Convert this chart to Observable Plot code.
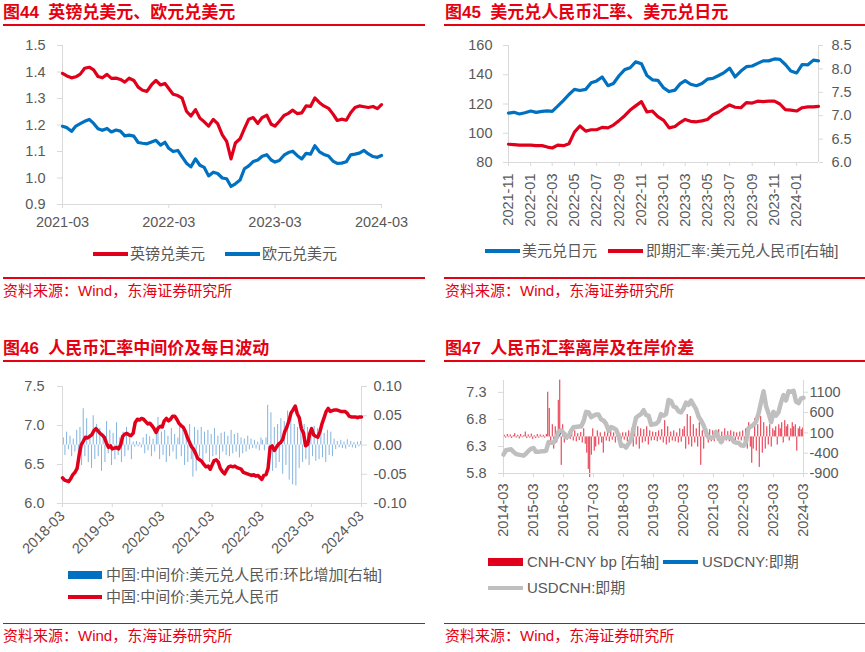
<!DOCTYPE html>
<html><head><meta charset="utf-8">
<script src="https://cdn.jsdelivr.net/npm/d3@7"></script>
<script src="https://cdn.jsdelivr.net/npm/@observablehq/plot@0.6"></script>
<style>
body{margin:0;background:#fff;}
#root{position:relative;width:865px;height:652px;overflow:hidden;background:#fff;font-family:"Liberation Sans","Noto Sans CJK SC",sans-serif;}
.t{position:absolute;line-height:20px;white-space:pre;}
.title{font-weight:bold;font-size:17px;color:#e60012;}
.src{font-size:15px;color:#e60012;}
.lg{font-size:15px;color:#595959;}
.bx{position:absolute;}
</style></head><body><div id="root"></div>
<script>
// ---------------- DATA ----------------
// Fig 44: GBPUSD / EURUSD, semi-monthly (1st & 16th) from 2021-03-01 to 2024-03-01
const c1Gbp = [1.395,1.385,1.378,1.382,1.392,1.414,1.418,1.408,1.383,1.378,1.391,1.376,1.377,1.372,1.362,1.377,1.368,1.343,1.331,1.327,1.352,1.368,1.351,1.357,1.338,1.316,1.311,1.301,1.252,1.234,1.258,1.226,1.212,1.196,1.221,1.205,1.163,1.138,1.072,1.132,1.148,1.186,1.222,1.228,1.206,1.228,1.237,1.203,1.196,1.214,1.236,1.244,1.256,1.243,1.246,1.272,1.27,1.302,1.284,1.272,1.263,1.242,1.217,1.222,1.218,1.246,1.266,1.272,1.269,1.266,1.27,1.262,1.277];
const c1Eur = [1.195,1.19,1.176,1.196,1.205,1.214,1.221,1.206,1.186,1.18,1.187,1.174,1.181,1.177,1.159,1.162,1.158,1.134,1.131,1.129,1.136,1.142,1.124,1.135,1.112,1.1,1.104,1.08,1.056,1.042,1.072,1.048,1.04,1.008,1.022,1.017,1.0,0.997,0.968,0.978,0.992,1.035,1.046,1.062,1.068,1.082,1.088,1.068,1.06,1.066,1.086,1.096,1.101,1.085,1.072,1.093,1.09,1.122,1.099,1.089,1.083,1.064,1.055,1.056,1.061,1.087,1.09,1.094,1.104,1.091,1.081,1.078,1.085];
const c1YTicks = [0.9,1.0,1.1,1.2,1.3,1.4,1.5];
const c1XTicks = ["2021-03-01","2022-03-01","2023-03-01","2024-03-01"];

// Fig 45: USDJPY (left) / USDCNY (right), semi-monthly from 2021-11-01 to 2024-03-01
const c2Jpy = [113.8,114.3,113.2,114.0,115.2,114.3,115.0,115.3,115.0,118.5,122.5,126.5,130.0,129.2,130.0,134.5,135.8,138.5,132.5,134.0,139.5,143.5,144.8,148.8,147.5,139.5,136.5,136.2,131.0,128.5,129.5,134.0,136.0,133.5,132.5,134.0,137.0,137.5,139.5,141.5,144.5,138.5,142.5,145.5,146.0,147.8,149.5,149.5,150.8,150.5,147.0,142.5,141.2,147.0,146.8,150.0,149.5];
const c2Cny = [6.39,6.38,6.37,6.37,6.37,6.36,6.36,6.33,6.31,6.37,6.36,6.40,6.65,6.78,6.67,6.70,6.70,6.75,6.74,6.80,6.90,7.00,7.12,7.21,7.30,7.08,7.10,6.98,6.90,6.74,6.77,6.86,6.92,6.88,6.87,6.89,6.92,7.02,7.08,7.16,7.23,7.18,7.17,7.28,7.27,7.31,7.30,7.31,7.31,7.25,7.13,7.12,7.10,7.17,7.19,7.19,7.20];
const c2YLeftTicks = [80,100,120,140,160];
const c2YRightTicks = [6.0,6.5,7.0,7.5,8.0,8.5];
const c2XTicks = ["2021-11-01","2022-01-01","2022-03-01","2022-05-01","2022-07-01","2022-09-01","2022-11-01","2023-01-01","2023-03-01","2023-05-01","2023-07-01","2023-09-01","2023-11-01","2024-01-01"];

// Fig 46: central parity (semi-monthly 2018-03-01..2024-03-01) and daily change bars (right axis)
const c3Mid = [6.33,6.30,6.29,6.28,6.32,6.37,6.40,6.45,6.62,6.75,6.80,6.85,6.84,6.86,6.88,6.93,6.96,6.93,6.90,6.88,
6.85,6.78,6.72,6.74,6.70,6.71,6.72,6.70,6.75,6.86,6.89,6.90,6.88,6.87,6.90,7.04,7.08,7.07,7.09,7.08,7.05,7.02,7.03,7.00,
6.96,6.91,6.97,6.99,6.98,7.06,7.09,7.06,7.08,7.12,7.12,7.08,7.03,7.00,6.98,6.93,6.85,6.79,6.73,6.70,6.64,6.58,6.56,6.54,
6.50,6.47,6.48,6.44,6.49,6.55,6.56,6.53,6.45,6.41,6.38,6.43,6.47,6.48,6.47,6.48,6.46,6.45,6.44,6.40,6.39,6.38,6.37,6.36,
6.37,6.35,6.36,6.33,6.31,6.36,6.37,6.45,6.72,6.74,6.68,6.72,6.76,6.78,6.82,6.92,6.98,7.06,7.16,7.20,7.25,7.15,7.10,6.96,
6.90,6.74,6.76,6.90,6.96,6.88,6.86,6.85,6.92,7.02,7.10,7.18,7.22,7.18,7.19,7.20,7.20,7.19,7.18,7.18,7.18,7.16,7.12,7.11,
7.11,7.11,7.10,7.11,7.11];
const c3Chg = [0.012,-0.018,0.022,-0.008,0.015,-0.02,0.01,-0.012,0.025,-0.015,
0.03,-0.035,0.062,-0.02,0.045,-0.03,0.018,-0.04,0.05,-0.025,
0.035,-0.02,0.028,-0.045,0.015,-0.03,0.04,-0.015,0.025,-0.035,
0.02,-0.025,0.038,-0.018,0.012,-0.03,0.022,-0.02,0.03,-0.01,
0.015,-0.025,0.005,-0.004,0.006,-0.003,0.004,-0.005,0.012,-0.015,
0.018,-0.01,0.014,-0.02,0.01,-0.012,0.02,0.047,-0.025,0.022,
-0.018,0.025,-0.03,0.015,-0.02,0.028,-0.012,0.018,-0.025,0.012,
0.03,-0.02,0.025,-0.035,0.02,-0.03,0.035,-0.025,-0.055,0.03,
-0.045,0.025,-0.02,0.03,-0.028,0.022,-0.015,0.025,-0.03,0.018,
-0.02,0.028,-0.018,0.015,-0.025,0.02,-0.012,0.022,-0.018,0.015,
-0.02,0.025,-0.015,0.018,-0.012,0.02,-0.022,0.012,-0.015,0.01,
-0.012,0.015,-0.008,0.01,-0.006,0.008,-0.007,0.005,-0.01,0.012,
0.008,-0.01,0.012,0.068,-0.035,0.055,-0.045,0.03,-0.04,0.035,
-0.03,0.045,-0.05,0.04,-0.035,0.058,-0.06,0.048,-0.068,0.035,
-0.07,0.03,-0.04,0.038,-0.03,0.035,-0.025,0.03,-0.035,0.025,
-0.02,0.032,-0.028,0.028,-0.025,0.03,-0.022,0.02,-0.03,0.025,
-0.018,0.022,-0.02,0.01,-0.008,0.006,-0.005,0.008,-0.006,0.005,
-0.007,0.009,-0.004,0.006,-0.005,0.004,-0.006,0.005,-0.003,0.006];
const c3YLeftTicks = [6.0,6.5,7.0,7.5];
const c3YRightTicks = [-0.1,-0.05,0,0.05,0.1];
const c3XTicks = ["2018-03-01","2019-03-01","2020-03-01","2021-03-01","2022-03-01","2023-03-01","2024-03-01"];

// Fig 47: USDCNY / USDCNH monthly 2014-03..2024-03, CNH-CNY spread bp (right axis)
const c4Cny = [6.14,6.22,6.23,6.25,6.20,6.17,6.15,6.14,6.12,6.15,
6.20,6.25,6.26,6.20,6.20,6.20,6.21,6.21,6.36,6.36,6.36,6.40,
6.49,6.57,6.54,6.46,6.48,6.58,6.65,6.65,6.67,6.67,6.77,6.92,
6.95,6.86,6.88,6.89,6.89,6.81,6.78,6.72,6.60,6.65,6.63,6.61,
6.50,6.32,6.32,6.28,6.34,6.41,6.62,6.82,6.86,6.88,6.96,6.88,
6.88,6.70,6.71,6.72,6.74,6.88,6.87,6.88,7.15,7.14,7.04,7.02,
6.96,6.93,7.00,7.10,7.07,7.14,7.07,6.99,6.86,6.79,6.70,6.57,
6.46,6.46,6.47,6.57,6.47,6.38,6.46,6.47,6.47,6.46,6.39,6.37,
6.37,6.32,6.31,6.37,6.62,6.66,6.70,6.75,6.90,7.11,7.30,7.06,
6.92,6.76,6.93,6.87,6.92,7.10,7.23,7.14,7.31,7.30,7.32,7.14,
7.10,7.18,7.19];
const c4Cnh = [6.15,6.23,6.24,6.25,6.20,6.16,6.15,6.14,6.13,6.17,
6.22,6.26,6.27,6.20,6.20,6.21,6.21,6.22,6.38,6.37,6.37,6.45,
6.58,6.60,6.55,6.47,6.49,6.59,6.66,6.66,6.67,6.67,6.77,6.94,
6.93,6.84,6.87,6.89,6.89,6.80,6.78,6.72,6.59,6.66,6.64,6.61,
6.50,6.31,6.32,6.28,6.35,6.42,6.63,6.83,6.87,6.90,6.97,6.88,
6.87,6.70,6.71,6.72,6.76,6.90,6.87,6.90,7.16,7.14,7.04,7.02,
6.95,6.93,7.00,7.11,7.07,7.15,7.07,6.99,6.85,6.78,6.69,6.56,
6.46,6.46,6.47,6.57,6.47,6.38,6.46,6.47,6.47,6.46,6.39,6.37,
6.37,6.32,6.31,6.38,6.64,6.67,6.70,6.76,6.91,7.12,7.32,7.05,
6.91,6.75,6.94,6.87,6.93,7.11,7.25,7.15,7.32,7.31,7.33,7.13,
7.10,7.19,7.20];
const c4Spread = [40,-30,60,-20,50,-40,30,80,-30,40,-50,60,-20,30,120,-40,50,-30,70,-60,
30,-40,60,-30,50,-20,40,-30,60,1100,700,-200,300,-300,250,-150,900,1400,-700,300,
-150,100,-80,120,-60,90,-100,150,-120,80,-90,110,-150,200,-180,-400,-800,-1000,-450,200,
-350,-250,150,-200,100,-150,-400,120,-100,150,-120,200,-80,100,-150,120,-90,80,-60,100,
-80,100,-120,150,-100,200,-250,300,-200,250,-300,200,-150,180,-120,250,-200,150,-100,120,
-90,110,-120,150,-80,180,-150,400,-200,250,-150,120,-100,150,-120,100,-150,200,-130,180,
250,-300,550,-200,500,-250,300,-150,200,-250,350,-700,150,-300,180,200,-150,180,-120,150,
-120,150,-100,180,-130,120,-150,200,-100,130,-120,150,-90,120,-110,100,-80,120,-100,150,
-150,200,-300,350,-250,-650,-300,450,-350,300,-750,500,-400,350,-300,250,-200,300,-250,200,
150,250,-200,300,200,350,-150,400,250,300,-100,200,350,250,300,-350,200,250,180,220];
const c4YLeftTicks = [5.8,6.3,6.8,7.3];
const c4YRightTicks = [-900,-400,100,600,1100];
const c4XTicks = ["2014-03-01","2015-03-01","2016-03-01","2017-03-01","2018-03-01","2019-03-01","2020-03-01","2021-03-01","2022-03-01","2023-03-01","2024-03-01"];

// ---------------- HELPERS ----------------
const RED="#e0001b", BLUE="#0070c0", GRAY="#bfbfbf", AX="#d9d9d9", TXT="#595959";
const FONT='"Liberation Sans","Noto Sans CJK SC",sans-serif';
const root=document.getElementById("root");
const D=(y,m,d)=>new Date(Date.UTC(y,m-1,d));
const P=s=>new Date(s+"T00:00:00Z");
const ym=d3.utcFormat("%Y-%m");
const semi=(y0,m0,n)=>Array.from({length:n},(_,i)=>D(y0,m0+Math.floor(i/2),1+(i%2)*15));
const spread=(d0,d1,n)=>{const span=(d1-d0)/86400000;return Array.from({length:n},(_,i)=>d3.utcDay.offset(d0,Math.round((i+0.5)*span/n)));};

function text(cls,x,yc,s){const e=document.createElement("div");e.className="t "+cls;e.style.left=x+"px";e.style.top=(yc-10)+"px";e.textContent=s;root.appendChild(e);}
function box(x,y,w,h,c){const e=document.createElement("div");e.className="bx";Object.assign(e.style,{left:x+"px",top:y+"px",width:w+"px",height:h+"px",background:c});root.appendChild(e);}
function put(svg,l,t){svg.style.position="absolute";svg.style.left=l+"px";svg.style.top=t+"px";root.appendChild(svg);}
function base(w,h,ml,mr,mt,mb){return {width:w,height:h,marginLeft:ml,marginRight:mr,marginTop:mt,marginBottom:mb,
  style:{fontFamily:FONT,fontSize:"14.5px",color:TXT,background:"transparent",overflow:"visible"}};}

// ---------------- FRAME TEXTS ----------------
text("title",3,13.3,"图44  英镑兑美元、欧元兑美元");
text("title",445,13.3,"图45  美元兑人民币汇率、美元兑日元");
text("title",3,348.8,"图46  人民币汇率中间价及每日波动");
text("title",445,348.8,"图47  人民币汇率离岸及在岸价差");
box(3,24.3,422,1.6,"#e60012"); box(444,24.3,421,1.6,"#e60012");
box(3,360,422,1.6,"#e60012"); box(444,360,421,1.6,"#e60012");
box(3,277,422,1.6,"#e60012"); box(444,277,421,1.6,"#e60012");
box(3,622.7,422,1.6,"#e60012"); box(444,622.7,421,1.6,"#e60012");
text("src",3,291,"资料来源：Wind，东海证券研究所");
text("src",445,291,"资料来源：Wind，东海证券研究所");
text("src",3,636,"资料来源：Wind，东海证券研究所");
text("src",445,636,"资料来源：Wind，东海证券研究所");

// legends
box(93,252,35,4,RED); text("lg",130,254,"英镑兑美元");
box(225,252,35,4,BLUE); text("lg",262,254,"欧元兑美元");
box(485,249,35,4,BLUE); text("lg",522,251,"美元兑日元");
box(608,249,35,4,RED); text("lg",646,251,"即期汇率:美元兑人民币[右轴]");
box(68,571,34,8,BLUE); text("lg",106,575,"中国:中间价:美元兑人民币:环比增加[右轴]");
box(68,595,34,4,RED); text("lg",106,597,"中国:中间价:美元兑人民币");
box(488,558,35,8,RED); text("lg",527,562,"CNH-CNY bp [右轴]");
box(663,560,35,4,BLUE); text("lg",702,562,"USDCNY:即期");
box(488,586,35,4,GRAY); text("lg",527,588,"USDCNH:即期");

// ---------------- CHART 1 ----------------
{
  const dates=semi(2021,3,c1Gbp.length);
  const data=dates.map((d,i)=>({date:d,gbp:c1Gbp[i],eur:c1Eur[i]}));
  const x0=P(c1XTicks[0]), x1=P(c1XTicks[c1XTicks.length-1]);
  put(Plot.plot({...base(430,200,62,49,15,26),
    x:{type:"utc",domain:[x0,x1],label:null},
    y:{domain:[0.9,1.5],label:null},
    marks:[
      Plot.ruleX([x0],{stroke:AX}),
      Plot.ruleY([0.9],{stroke:AX}),
      Plot.axisY({ticks:c1YTicks,tickFormat:d=>d.toFixed(1),tickSize:5,tickPadding:12,stroke:AX,fill:TXT,label:null}),
      Plot.axisX({ticks:c1XTicks.map(P),tickFormat:ym,tickSize:4,tickPadding:8,stroke:AX,fill:TXT,label:null}),
      Plot.line(data,{x:"date",y:"gbp",stroke:RED,strokeWidth:3.2}),
      Plot.line(data,{x:"date",y:"eur",stroke:BLUE,strokeWidth:3.2})
    ]}),0,30);
}

// ---------------- CHART 2 ----------------
{
  const dates=semi(2021,11,c2Jpy.length);
  const data=dates.map((d,i)=>({date:d,jpy:c2Jpy[i],cny:c2Cny[i]}));
  const x0=P("2021-11-01"), x1=P("2024-03-01");
  put(Plot.plot({...base(430,210,73,47,15,78),
    x:{type:"utc",domain:[x0,x1],label:null},
    y:{domain:[80,160],label:null},
    marks:[
      Plot.ruleX([x0,x1],{stroke:AX}),
      Plot.ruleY([80],{stroke:AX}),
      Plot.axisY({ticks:c2YLeftTicks,tickSize:5,tickPadding:11,stroke:AX,fill:TXT,label:null}),
      Plot.axisX({ticks:c2XTicks.map(P),tickFormat:ym,tickRotate:-90,tickSize:4,tickPadding:7,stroke:AX,fill:TXT,label:null}),
      Plot.line(data,{x:"date",y:"jpy",stroke:BLUE,strokeWidth:3.2})
    ]}),435,30);
  put(Plot.plot({...base(430,210,73,47,15,78),
    x:{type:"utc",domain:[x0,x1],label:null,axis:null},
    y:{domain:[6.0,8.5],label:null},
    marks:[
      Plot.axisY({anchor:"right",ticks:c2YRightTicks,tickFormat:d=>d.toFixed(1),tickSize:4,tickPadding:9,stroke:AX,fill:TXT,label:null}),
      Plot.line(data,{x:"date",y:"cny",stroke:RED,strokeWidth:3.2})
    ]}),435,30);
}

// ---------------- CHART 3 ----------------
{
  const x0=P(c3XTicks[0]), x1=P(c3XTicks[c3XTicks.length-1]);
  const mid=semi(2018,3,c3Mid.length).map((d,i)=>({date:d,v:c3Mid[i]}));
  const chg=spread(x0,x1,c3Chg.length).map((d,i)=>({date:d,v:c3Chg[i]}));
  put(Plot.plot({...base(430,200,62,69,16,67),
    x:{type:"utc",domain:[x0,x1],label:null,axis:null},
    y:{domain:[-0.1,0.1],label:null},
    marks:[
      Plot.ruleX(chg,{x:"date",y1:0,y2:"v",stroke:"#5b9bd5",strokeWidth:0.9,strokeOpacity:0.85}),
      Plot.axisY({anchor:"right",ticks:c3YRightTicks,tickFormat:d=>d.toFixed(2),tickSize:5,tickPadding:7,stroke:AX,fill:TXT,label:null})
    ]}),0,370);
  put(Plot.plot({...base(430,200,62,69,16,67),
    x:{type:"utc",domain:[x0,x1],label:null},
    y:{domain:[6.0,7.5],label:null},
    marks:[
      Plot.ruleX([x0,x1],{stroke:AX}),
      Plot.ruleY([6.0],{stroke:AX}),
      Plot.axisY({ticks:c3YLeftTicks,tickFormat:d=>d.toFixed(1),tickSize:5,tickPadding:13,stroke:AX,fill:TXT,label:null}),
      Plot.axisX({ticks:c3XTicks.map(P),tickFormat:ym,tickRotate:-45,tickSize:4,tickPadding:6,stroke:AX,fill:TXT,label:null}),
      Plot.line(mid,{x:"date",y:"v",stroke:RED,strokeWidth:3.5})
    ]}),0,370);
}

// ---------------- CHART 4 ----------------
{
  const x0=P(c4XTicks[0]), x1=P(c4XTicks[c4XTicks.length-1]);
  const lines=c4Cny.map((v,i)=>({date:D(2014,3+i,1),cny:v,cnh:c4Cnh[i]}));
  const bars=spread(x0,x1,c4Spread.length).map((d,i)=>({date:d,v:c4Spread[i]}));
  put(Plot.plot({...base(430,180,68,62,10,77),
    x:{type:"utc",domain:[x0,x1],label:null,axis:null},
    y:{domain:[-900,1389],label:null},
    marks:[
      Plot.ruleX(bars,{x:"date",y1:0,y2:"v",stroke:RED,strokeWidth:1,strokeOpacity:0.85}),
      Plot.axisY({anchor:"right",ticks:c4YRightTicks,tickFormat:d=>String(d),tickSize:4,tickPadding:2,stroke:AX,fill:TXT,label:null})
    ]}),435,370);
  put(Plot.plot({...base(430,180,68,62,10,77),
    x:{type:"utc",domain:[x0,x1],label:null},
    y:{domain:[5.8,7.52],label:null},
    marks:[
      Plot.ruleX([x0,x1],{stroke:AX}),
      Plot.ruleY([5.8],{stroke:AX}),
      Plot.axisY({ticks:c4YLeftTicks,tickFormat:d=>d.toFixed(1),tickSize:5,tickPadding:12,stroke:AX,fill:TXT,label:null}),
      Plot.axisX({ticks:c4XTicks.map(P),tickFormat:ym,tickRotate:-90,tickSize:4,tickPadding:6,stroke:AX,fill:TXT,label:null}),
      Plot.line(lines,{x:"date",y:"cny",stroke:BLUE,strokeWidth:1.5}),
      Plot.line(lines,{x:"date",y:"cnh",stroke:GRAY,strokeWidth:4.5})
    ]}),435,370);
}
</script></body></html>
